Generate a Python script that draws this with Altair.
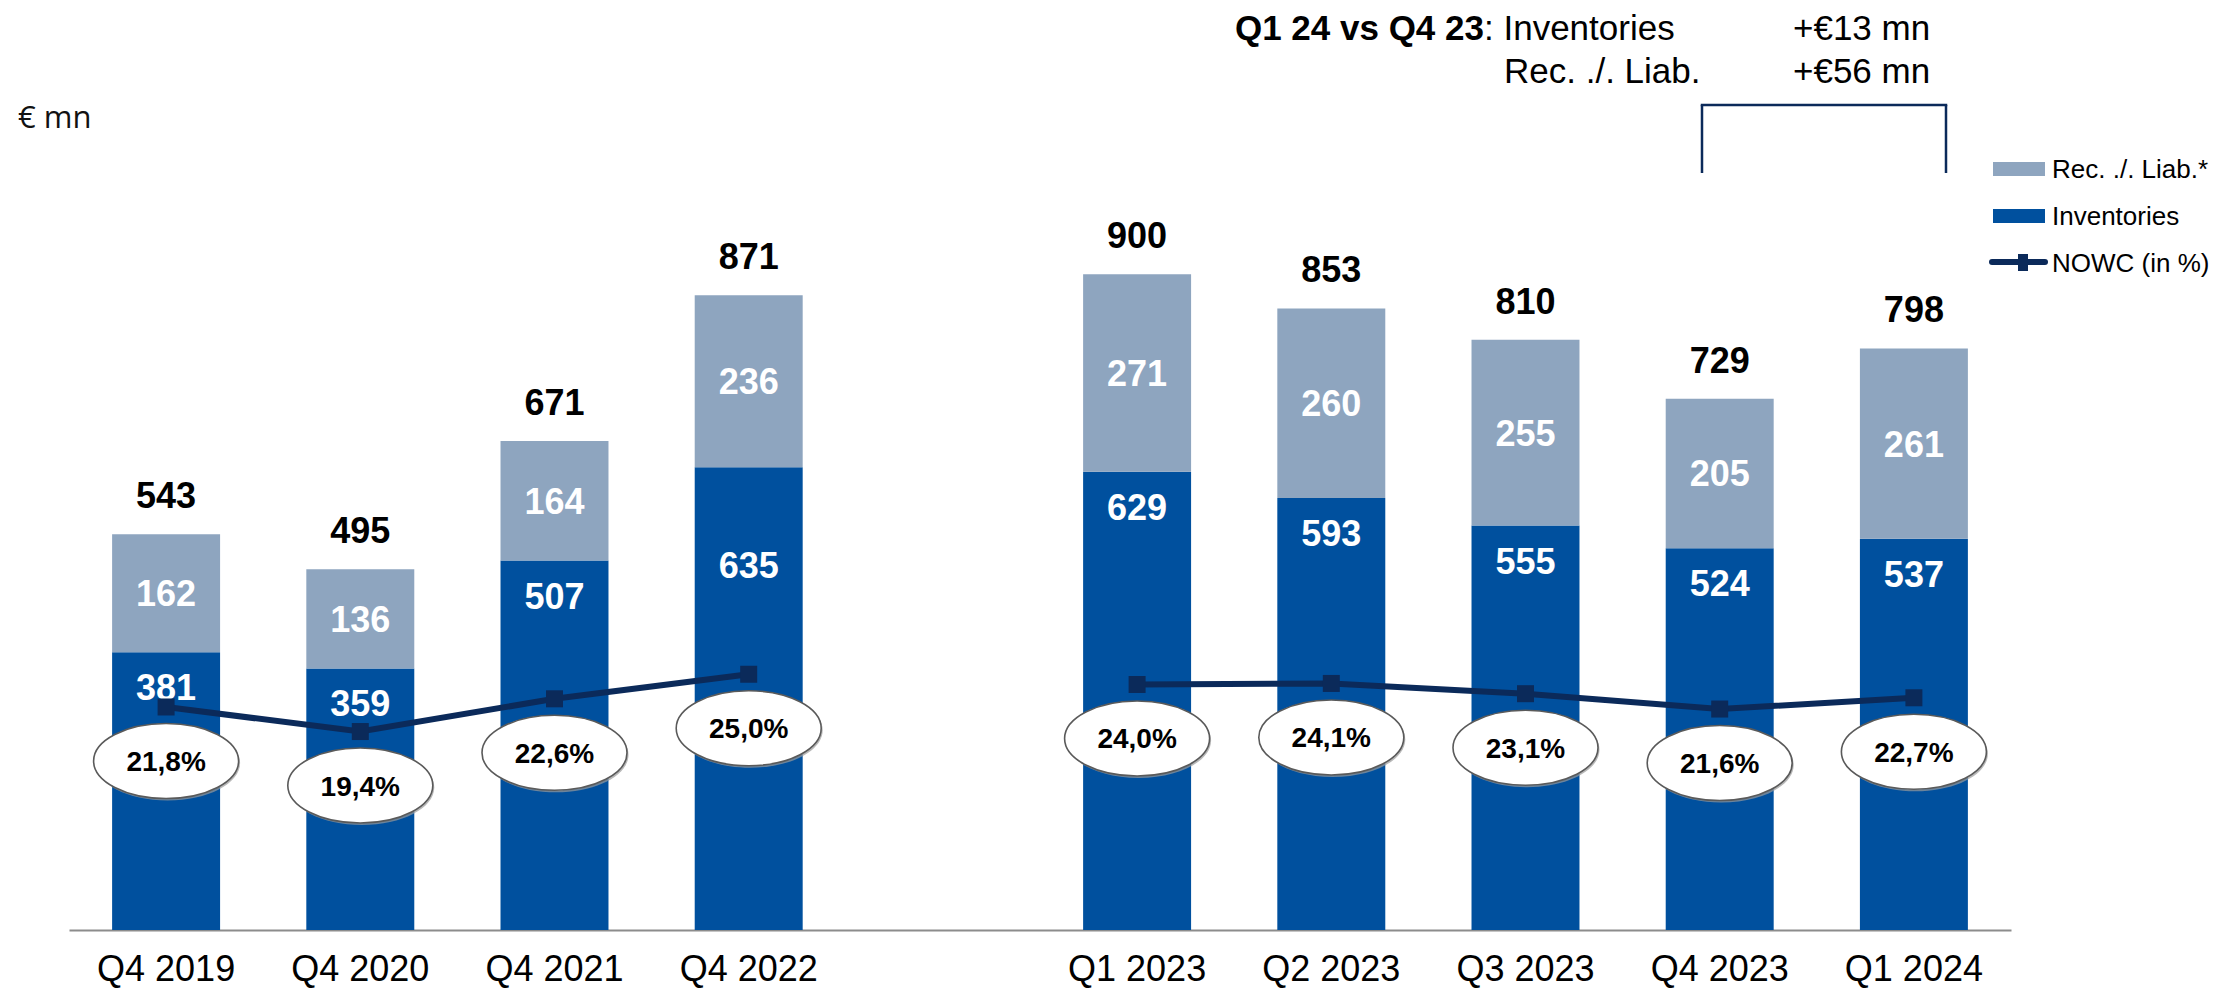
import altair as alt
import pandas as pd

# ---------------- data ----------------
categories = ["Q4 2019", "Q4 2020", "Q4 2021", "Q4 2022",
              "Q1 2023", "Q2 2023", "Q3 2023", "Q4 2023", "Q1 2024"]
period = ["year-end", "year-end", "year-end", "year-end",
          "quarter", "quarter", "quarter", "quarter", "quarter"]
inventories = [381, 359, 507, 635, 629, 593, 555, 524, 537]
rec_liab = [162, 136, 164, 236, 271, 260, 255, 205, 261]
totals = [543, 495, 671, 871, 900, 853, 810, 729, 798]
nowc_pct = [21.8, 19.4, 22.6, 25.0, 24.0, 24.1, 23.1, 21.6, 22.7]
spacer = " "
x_domain = categories[:4] + [spacer] + categories[4:]

legend_labels = ["Rec. ./. Liab.*", "Inventories", "NOWC (in %)"]
unit_label = "€ mn"
annot_head = "Q1 24 vs Q4 23"
annot_rows = [": Inventories", "Rec. ./. Liab."]
annot_vals = ["+€13 mn", "+€56 mn"]

df = pd.DataFrame({
    "cat": categories,
    "period": period,
    "inv": inventories,
    "rec": rec_liab,
    "total": totals,
    "pct": nowc_pct,
})
df["rec_mid"] = df["inv"] + df["rec"] / 2
df["pct_label"] = [f"{v:.1f}%".replace(".", ",") for v in nowc_pct]

# ---------------- style ----------------
LIGHT = "#8EA5BF"
DARK = "#00509E"
NAVY = "#0B2A5A"
FONT = "Liberation Sans"
PAD_TOP = 12
W, H = 2221, 910
YMAX = H / 0.7287
PMAX = H / 10.23
T = 8 + PAD_TOP  # page y of the plot's top edge


def py(y):
    """page y -> view y"""
    return y - T


def px(x):
    """page x -> view x"""
    return x - 8


xscale = alt.Scale(domain=x_domain, range=[61, 2003], paddingInner=0.444, paddingOuter=0.222)
yscale = alt.Scale(domain=[0, YMAX], nice=False, zero=True)
pscale = alt.Scale(domain=[0, PMAX], nice=False, zero=True)

X = alt.X("cat:N", scale=xscale, title=None,
          axis=alt.Axis(labelFontSize=36, labelFont=FONT, labelColor="black",
                        labelAngle=0, ticks=False, tickSize=0, labelPadding=39,
                        labelBaseline="middle", domainColor="#8c8c8c", domainWidth=2,
                        grid=False, labelOverlap=False))

base = alt.Chart(df)

inv_bar = base.mark_bar(color=DARK).encode(
    x=X, y=alt.Y("inv:Q", scale=yscale, axis=None))
rec_bar = base.mark_bar(color=LIGHT).encode(
    x=X, y=alt.Y("inv:Q", scale=yscale, axis=None), y2="total:Q")

total_txt = base.mark_text(font=FONT, fontSize=36, fontWeight="bold", color="black",
                           baseline="middle", dy=-37).encode(
    x=X, y=alt.Y("total:Q", scale=yscale, axis=None), text="total:Q")
rec_txt = base.mark_text(font=FONT, fontSize=36, fontWeight="bold", color="white",
                         baseline="middle", dy=2).encode(
    x=X, y=alt.Y("rec_mid:Q", scale=yscale, axis=None), text="rec:Q")
inv_txt = base.transform_filter(alt.datum.cat != "Q4 2022").mark_text(
    font=FONT, fontSize=36, fontWeight="bold", color="white", baseline="middle", dy=37).encode(
    x=X, y=alt.Y("inv:Q", scale=yscale, axis=None), text="inv:Q")
inv_txt2 = base.transform_filter(alt.datum.cat == "Q4 2022").mark_text(
    font=FONT, fontSize=36, fontWeight="bold", color="white", baseline="middle", dy=100).encode(
    x=X, y=alt.Y("inv:Q", scale=yscale, axis=None), text="inv:Q")

line = base.mark_line(color=NAVY, strokeWidth=6).encode(
    x=X, y=alt.Y("pct:Q", scale=pscale, axis=None), detail="period:N")
pts = base.mark_point(shape="square", filled=True, size=289, color=NAVY, opacity=1).encode(
    x=X, y=alt.Y("pct:Q", scale=pscale, axis=None))

ry = 37.5 / 72.5
k = 0.5523
ELLIPSE = (f"M -1 0 C -1 {-k*ry:.4f} {-k:.4f} {-ry:.4f} 0 {-ry:.4f} "
           f"C {k:.4f} {-ry:.4f} 1 {-k*ry:.4f} 1 0 "
           f"C 1 {k*ry:.4f} {k:.4f} {ry:.4f} 0 {ry:.4f} "
           f"C {-k:.4f} {ry:.4f} -1 {k*ry:.4f} -1 0 Z")
ESIZE = 145 ** 2

ell_shadow = base.mark_point(shape=ELLIPSE, size=ESIZE, filled=True, fill="#9a9a9a",
                             strokeWidth=0, opacity=0.7, yOffset=56, xOffset=1.5).encode(
    x=X, y=alt.Y("pct:Q", scale=pscale, axis=None))
ell = base.mark_point(shape=ELLIPSE, size=ESIZE, filled=True, fill="white",
                      stroke="#5a5a5a", strokeWidth=1.6, opacity=1, yOffset=54).encode(
    x=X, y=alt.Y("pct:Q", scale=pscale, axis=None))
pct_txt = base.mark_text(font=FONT, fontSize=28, fontWeight="bold", color="black",
                         baseline="middle", dy=56).encode(
    x=X, y=alt.Y("pct:Q", scale=pscale, axis=None), text="pct_label:N")

one = pd.DataFrame({"k": [0]})


def txt(s, x, y, size, weight="normal", align="left", baseline="middle", font=FONT, color="black"):
    return alt.Chart(pd.DataFrame({"t": [s]})).mark_text(
        font=font, fontSize=size, fontWeight=weight, align=align, baseline=baseline,
        color=color).encode(text="t:N", x=alt.value(px(x)), y=alt.value(py(y)))


def rect(x, x2, y, y2, color):
    return alt.Chart(one).mark_rect(color=color).encode(
        x=alt.value(px(x)), x2=alt.value(px(x2)), y=alt.value(py(y)), y2=alt.value(py(y2)))


def hrule(x, x2, y, color, w, cap="butt"):
    return alt.Chart(one).mark_rule(color=color, strokeWidth=w, strokeCap=cap).encode(
        x=alt.value(px(x)), x2=alt.value(px(x2)), y=alt.value(py(y)))


def vrule(x, y, y2, color, w):
    return alt.Chart(one).mark_rule(color=color, strokeWidth=w).encode(
        x=alt.value(px(x)), y=alt.value(py(y)), y2=alt.value(py(y2)))


# legend (page coordinates)
legend = [
    rect(1993, 2045, 162, 176, LIGHT),
    txt(legend_labels[0], 2052, 170, 26),
    rect(1993, 2045, 209, 223, DARK),
    txt(legend_labels[1], 2052, 217, 26),
    hrule(1992, 2045, 262, NAVY, 6, "round"),
    rect(2018, 2028, 254, 271, NAVY),
    txt(legend_labels[2], 2052, 264, 26),
]

# annotation (page coordinates)
annot = [
    txt(annot_head, 1484, 40, 35, weight="bold", align="right", baseline="alphabetic"),
    txt(annot_rows[0], 1484, 40, 35, baseline="alphabetic"),
    txt(annot_rows[1], 1504, 83, 35, baseline="alphabetic"),
    txt(annot_vals[0], 1793, 40, 35, baseline="alphabetic"),
    txt(annot_vals[1], 1793, 83, 35, baseline="alphabetic"),
    hrule(1702, 1946, 105, NAVY, 2.5, "square"),
    vrule(1702, 105, 173, NAVY, 2.5),
    vrule(1946, 105, 173, NAVY, 2.5),
    txt(unit_label, 18, 128, 31, baseline="alphabetic", font="Open Sans", color="#111111"),
]

chart = alt.layer(
    inv_bar, rec_bar, total_txt, rec_txt, inv_txt, inv_txt2,
    line, pts, ell_shadow, ell, pct_txt,
    *legend, *annot
).resolve_scale(y="independent").properties(
    width=W, height=H,
    autosize=alt.AutoSizeParams(type="none"),
    padding={"left": 0, "top": PAD_TOP, "right": 0, "bottom": 58},
    background="white",
).configure_view(stroke=None)

chart.save("out.html", embed_options={"renderer": "svg", "actions": False})
